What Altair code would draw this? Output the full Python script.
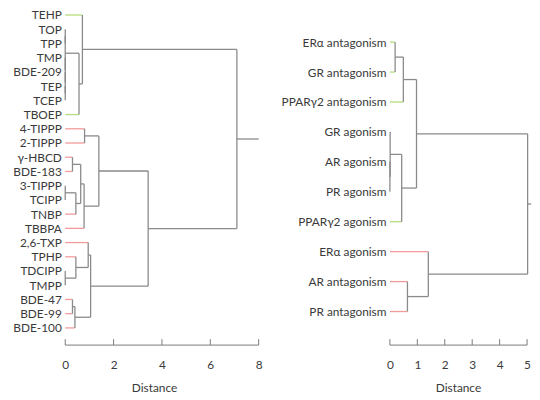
import altair as alt
import pandas as pd

# ---------------- data ----------------
left_leaves = ["TEHP", "TOP", "TPP", "TMP", "BDE-209", "TEP", "TCEP", "TBOEP",
               "4-TIPPP", "2-TIPPP", "γ-HBCD", "BDE-183", "3-TIPPP", "TCIPP",
               "TNBP", "TBBPA", "2,6-TXP", "TPHP", "TDCIPP", "TMPP",
               "BDE-47", "BDE-99", "BDE-100"]
left_groups = ["g", "n", "n", "n", "n", "n", "n", "g",
               "r", "r", "r", "r", "n", "n",
               "r", "r", "r", "r", "n", "n",
               "r", "r", "r"]
# merges: (child a, child b, distance); internal nodes are called m0, m1, ...
left_merges = [
    ("TOP", "TPP", 0.0),        # m0
    ("TEP", "TCEP", 0.0),       # m1
    ("BDE-209", "m1", 0.0),     # m2
    ("TMP", "m2", 0.0),         # m3
    ("m0", "m3", 0.0),          # m4
    ("m4", "TBOEP", 0.57),      # m5
    ("TEHP", "m5", 0.71),       # m6
    ("4-TIPPP", "2-TIPPP", 0.80),  # m7
    ("γ-HBCD", "BDE-183", 0.30),   # m8
    ("3-TIPPP", "TCIPP", 0.0),     # m9
    ("m9", "TNBP", 0.44),       # m10
    ("m8", "m10", 0.64),        # m11
    ("m11", "TBBPA", 0.78),     # m12
    ("m7", "m12", 1.39),        # m13
    ("TDCIPP", "TMPP", 0.0),    # m14
    ("TPHP", "m14", 0.44),      # m15
    ("2,6-TXP", "m15", 0.95),   # m16
    ("BDE-47", "BDE-99", 0.30), # m17
    ("m17", "BDE-100", 0.40),   # m18
    ("m16", "m18", 1.05),       # m19
    ("m13", "m19", 3.43),       # m20
    ("m6", "m20", 7.10),        # m21
]
left_root_stub = 8.0
left_ticks = [0, 2, 4, 6, 8]

right_leaves = ["ERα antagonism", "GR antagonism", "PPARγ2 antagonism",
                "GR agonism", "AR agonism", "PR agonism", "PPARγ2 agonism",
                "ERα agonism", "AR antagonism", "PR antagonism"]
right_groups = ["g", "g", "g", "n", "n", "n", "g", "r", "r", "r"]
right_merges = [
    ("ERα antagonism", "GR antagonism", 0.19),  # m0
    ("m0", "PPARγ2 antagonism", 0.49),          # m1
    ("AR agonism", "PR agonism", 0.0),          # m2
    ("GR agonism", "m2", 0.01),                 # m3
    ("m3", "PPARγ2 agonism", 0.43),             # m4
    ("m1", "m4", 0.97),                         # m5
    ("AR antagonism", "PR antagonism", 0.64),   # m6
    ("ERα agonism", "m6", 1.40),                # m7
    ("m5", "m7", 5.02),                         # m8
]
right_root_stub = 5.15
right_ticks = [0, 1, 2, 3, 4, 5]

# ---------------- styling ----------------
GREEN = "#b2dd7a"
RED = "#f29a9a"
LINK = "#8a8a8a"
AXIS = "#7a7a7a"
TEXT = "#3a3a3a"
FONT = "Lato"


def segments(leaves, groups, merges, stub):
    pos = {name: (float(i), 0.0) for i, name in enumerate(leaves)}
    grp = dict(zip(leaves, groups))
    rows = []
    for k, (a, b, h) in enumerate(merges):
        for c in (a, b):
            yc, hc = pos[c]
            rows.append(dict(x=hc, x2=h, y=yc, y2=yc, c=grp.get(c, "link")))
        ya, yb = pos[a][0], pos[b][0]
        rows.append(dict(x=h, x2=h, y=ya, y2=yb, c="link"))
        pos[f"m{k}"] = ((ya + yb) / 2.0, h)
    yr, hr = pos[f"m{len(merges) - 1}"]
    rows.append(dict(x=hr, x2=stub, y=yr, y2=yr, c="link"))
    return pd.DataFrame(rows)


def panel(leaves, groups, merges, stub, ticks, ydom, w, h, extent, title_x):
    df = segments(leaves, groups, merges, stub)
    xmax = ticks[-1]
    xs = alt.Scale(domain=[0, xmax], nice=False, zero=False)
    ys = alt.Scale(domain=ydom, nice=False, zero=False, reverse=True)
    label_expr = "[" + ",".join("'" + s + "'" for s in leaves) + "][datum.value]"
    x_axis = alt.Axis(
        values=ticks, domain=False, ticks=False, grid=False, labelFlush=False,
        labelPadding=15, labelFontSize=12, labelColor=TEXT, labelFont=FONT,
        format="d", title="Distance", titleFontSize=12, titleFontWeight="normal",
        titleColor=TEXT, titleFont=FONT, titlePadding=12, titleX=title_x)
    tree = alt.Chart(df).mark_rule(strokeWidth=1.3).encode(
        x=alt.X("x:Q", scale=xs, axis=x_axis),
        x2="x2:Q",
        y=alt.Y("y:Q", scale=ys, axis=alt.Axis(
            values=list(range(len(leaves))), labelExpr=label_expr, domain=False,
            ticks=False, grid=False, labelPadding=4, labelFontSize=12,
            labelColor=TEXT, labelFont=FONT, labelOverlap=False, title=None,
            minExtent=extent, maxExtent=extent, labelLimit=200)),
        y2="y2:Q",
        color=alt.Color("c:N", scale=alt.Scale(domain=["g", "r", "n", "link"],
                                               range=[GREEN, RED, LINK, LINK]),
                        legend=None),
    )
    tick_marks = alt.Chart(pd.DataFrame({"t": ticks})).mark_rule(
        color=AXIS, strokeWidth=1).encode(
        x=alt.X("t:Q", scale=xs, axis=x_axis),
        y=alt.value(h), y2=alt.value(h - 6))
    base = alt.Chart(pd.DataFrame({"a": [ticks[0]], "b": [ticks[-1]]})).mark_rule(
        color=AXIS, strokeWidth=1).encode(
        x=alt.X("a:Q", scale=xs, axis=x_axis), x2="b:Q", y=alt.value(h))
    return alt.layer(tree, tick_marks, base).properties(width=w, height=h)


left = panel(left_leaves, left_groups, left_merges, left_root_stub, left_ticks,
             [-0.451, 23.207], 196, 341, 56, 90)
right = panel(right_leaves, right_groups, right_merges, right_root_stub, right_ticks,
              [-1.121, 10.121], 139, 341, 110, 69)

chart = alt.hconcat(left, right, spacing=18).properties(
    padding={"left": 2, "top": -2, "right": 0, "bottom": 0}
).configure_view(stroke=None)

chart.save("out.html", embed_options={"renderer": "svg", "actions": False})
